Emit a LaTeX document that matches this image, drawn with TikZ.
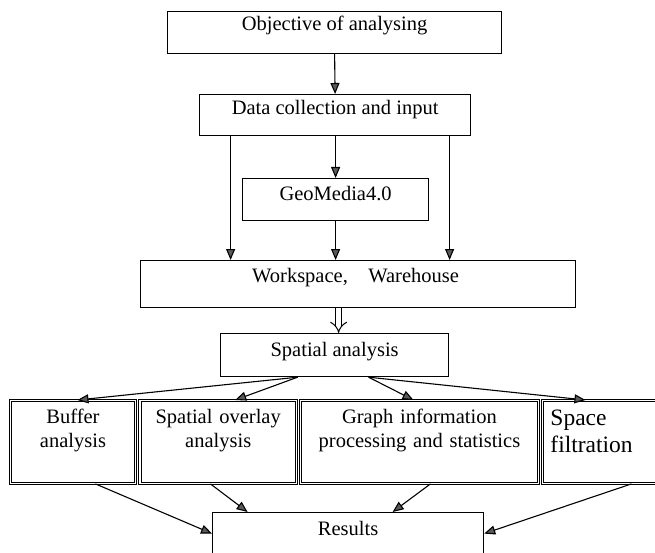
\documentclass[tikz,border=0pt]{standalone}
\usepackage{fontspec}
\setmainfont{Liberation Serif}
\usepackage{tikz}
\usetikzlibrary{positioning}
\usetikzlibrary{arrows.meta}
\tikzset{
  every node/.style={font=\fontsize{20.5}{24}\selectfont},
  box/.style n args={4}{draw, line width=1.2pt, anchor=north west, inner sep=0pt,
    minimum width=#1, minimum height=#2, text height=#3, text depth=#4, align=center},
  dbox/.style={draw, line width=0.9pt, double, double distance=1.6pt, anchor=north west,
    inner sep=0pt, text width=#1, minimum height=83pt, text height=23pt, text depth=60pt,
    align=center},
  arr/.style={line width=1.1pt, -{Triangle[length=11pt,width=9pt,fill=black!65]}},
}

\begin{document}
\begin{tikzpicture}[x=1pt,y=-1pt]

\useasboundingbox (0,0) rectangle (655,553);
\clip (0,0) rectangle (655,553);

% Top boxes
\node[box={334pt}{42pt}{19pt}{23pt}] (obj) at (167,11) {Objective of analysing};
\node[box={271pt}{41pt}{20pt}{21pt}] (data) at (199,94) {Data collection and input};
\node[box={186pt}{42pt}{22pt}{20pt}] (geo) at (242,178) {GeoMedia4.0};
\node[box={435pt}{47pt}{22pt}{25pt}] (ws) at (140,260) {\hspace*{-5pt}Workspace,\quad Warehouse};
\node[box={228pt}{43pt}{23pt}{20pt}] (sa) at (220,333) {Spatial analysis};

% Analysis boxes
\node[dbox=125pt] (buf) at (10,400) {Buffer\\analysis};
\node[dbox=156.5pt] (ovl) at (139.5,400) {Spatial overlay\\analysis};
\node[dbox=238pt] (grp) at (300,400) {Graph information\\processing and statistics};
\node[dbox=98pt, align=left, inner xsep=8pt,
  font=\fontsize{23.5}{27}\selectfont, text height=25pt, text depth=58pt] (spf) at (542,400) {Space\\filtration};

% Results
\node[box={271pt}{50pt}{23pt}{27pt}] (res) at (212,512) {Results};

% Arrows down to the workspace
\draw[arr] (obj.south) -- (data.north);
\draw[arr] ([xshift=-104.5pt]data.south) -- ([xshift=-104.5pt]data.south |- ws.north);
\draw[arr] (data.south -| geo.north) -- (geo.north);
\draw[arr] ([xshift=114.5pt]data.south) -- ([xshift=114.5pt]data.south |- ws.north);
\draw[arr] (geo.south) -- (geo.south |- ws.north);

% Hollow arrow
\draw[line width=1pt, double, double distance=5pt, -{Implies[scale=1.7]}]
  ([xshift=-19.5pt]ws.south) -- ([xshift=4pt]sa.north);

% Spatial analysis to methods
\draw[arr] ([xshift=-37pt]sa.south) -- ([xshift=4.5pt]buf.north);
\draw[arr] ([xshift=-37pt]sa.south) -- ([xshift=17pt]ovl.north);
\draw[arr] ([xshift=34pt]sa.south) -- ([xshift=-6pt]grp.north);
\draw[arr] ([xshift=34pt]sa.south) -- ([xshift=-14pt]spf.north);

% Methods to results
\draw[arr] ([xshift=22.5pt]buf.south) -- ([yshift=4pt]res.west);
\draw[arr] ([xshift=-7.75pt]ovl.south) -- ([xshift=-100.5pt]res.north);
\draw[arr] ([xshift=11pt]grp.south) -- ([xshift=44.5pt]res.north);
\draw[arr] ([xshift=32pt]spf.south) -- ([yshift=4pt]res.east);

\end{tikzpicture}
\end{document}
